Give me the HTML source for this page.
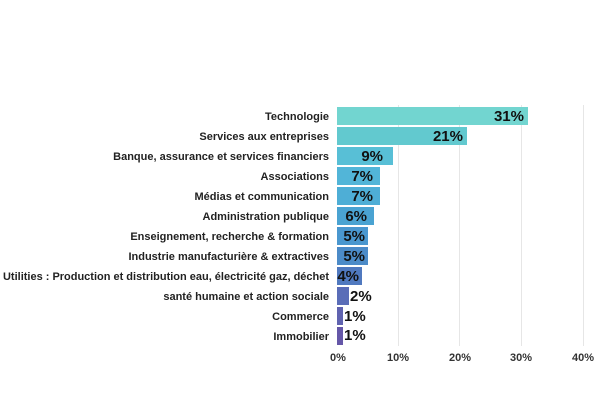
<!DOCTYPE html>
<html><head><meta charset="utf-8"><style>
body{margin:0;background:#fff;}
svg{display:block;font-family:"Liberation Sans",sans-serif;}
.l{font-size:11px;font-weight:bold;fill:#222;text-anchor:end;}
.v{font-size:15px;font-weight:bold;fill:#111;}
.t{font-size:11px;font-weight:bold;fill:#333;text-anchor:middle;}
</style></head><body>
<svg width="600" height="400" viewBox="0 0 600 400">
<g stroke="#e6e6e6" stroke-width="1">
<line x1="398.5" y1="105" x2="398.5" y2="346"/>
<line x1="459.5" y1="105" x2="459.5" y2="346"/>
<line x1="521.5" y1="105" x2="521.5" y2="346"/>
<line x1="583.5" y1="105" x2="583.5" y2="346"/>
</g>
<g>
<rect x="337" y="107" width="191" height="18" fill="#72d5d0"/>
<rect x="337" y="127" width="130" height="18" fill="#62c9cf"/>
<rect x="337" y="147" width="56" height="18" fill="#58bfd6"/>
<rect x="337" y="167" width="43" height="18" fill="#52b5d8"/>
<rect x="337" y="187" width="43" height="18" fill="#4eaed6"/>
<rect x="337" y="207" width="37" height="18" fill="#4aa3d2"/>
<rect x="337" y="227" width="31" height="18" fill="#4a97cf"/>
<rect x="337" y="247" width="31" height="18" fill="#4c8bc8"/>
<rect x="337" y="267" width="25" height="18" fill="#5079bf"/>
<rect x="337" y="287" width="12" height="18" fill="#5a6db8"/>
<rect x="337" y="307" width="6" height="18" fill="#6063b0"/>
<rect x="337" y="327" width="6" height="18" fill="#6557a8"/>
</g>
<g class="l">
<text x="329" y="120">Technologie</text>
<text x="329" y="140">Services aux entreprises</text>
<text x="329" y="160">Banque, assurance et services financiers</text>
<text x="329" y="180">Associations</text>
<text x="329" y="200">Médias et communication</text>
<text x="329" y="220">Administration publique</text>
<text x="329" y="240">Enseignement, recherche &amp; formation</text>
<text x="329" y="260">Industrie manufacturière &amp; extractives</text>
<text x="329" y="280" textLength="326" lengthAdjust="spacingAndGlyphs">Utilities : Production et distribution eau, électricité gaz, déchet</text>
<text x="329" y="300">santé humaine et action sociale</text>
<text x="329" y="320">Commerce</text>
<text x="329" y="340">Immobilier</text>
</g>
<g class="v" text-anchor="end">
<text x="524" y="121">31%</text>
<text x="463" y="141">21%</text>
<text x="383" y="161">9%</text>
<text x="373" y="181">7%</text>
<text x="373" y="201">7%</text>
<text x="367" y="221">6%</text>
<text x="365" y="241">5%</text>
<text x="365" y="261">5%</text>
<text x="359" y="281">4%</text>
</g>
<g class="v">
<text x="350" y="301">2%</text>
<text x="344" y="321">1%</text>
<text x="344" y="340">1%</text>
</g>
<g class="t">
<text x="338" y="361">0%</text>
<text x="398" y="361">10%</text>
<text x="460" y="361">20%</text>
<text x="521" y="361">30%</text>
<text x="583" y="361">40%</text>
</g>
</svg>
</body></html>
